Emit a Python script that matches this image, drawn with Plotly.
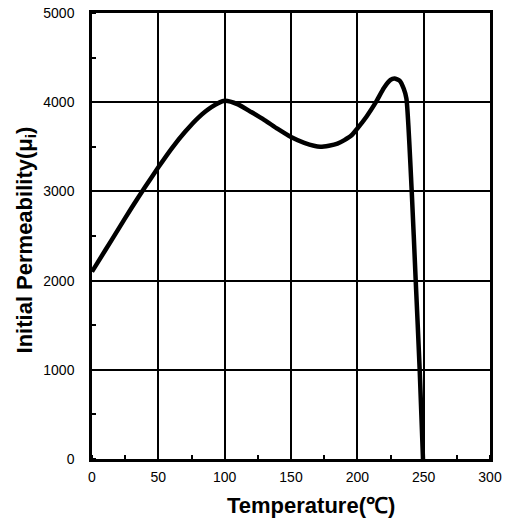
import plotly.graph_objects as go

temperature = [0, 10, 20, 30, 40, 50, 60, 70, 80, 90, 100, 110, 120, 130, 140, 150, 160, 172, 185,
               195, 200, 207, 214, 220, 225, 228, 232, 235, 237, 241, 244, 247, 249.5]
permeability = [2100, 2340, 2580, 2820, 3050, 3270, 3480, 3665, 3825, 3945, 4015, 3975, 3890,
                3800, 3700, 3610, 3545, 3500, 3535, 3620, 3705, 3840, 4000, 4160, 4250, 4265, 4240,
                4150, 4040, 3000, 2000, 1000, 0]

x_ticks = [0, 50, 100, 150, 200, 250, 300]
y_ticks = [0, 1000, 2000, 3000, 4000, 5000]

font_family = "Liberation Sans, Arial, sans-serif"

fig = go.Figure()
fig.add_trace(go.Scatter(
    x=temperature, y=permeability, mode="lines",
    line=dict(color="black", width=4.5, shape="spline", smoothing=0.6),
    showlegend=False, hoverinfo="skip",
))

axis_common = dict(
    showline=True, linecolor="black", linewidth=2.5, mirror=True,
    showgrid=True, gridcolor="black", gridwidth=2,
    zeroline=False, ticks="", automargin=False,
    tickfont=dict(family=font_family, size=14, color="black"),
)

fig.update_xaxes(
    range=[0, 300], tickvals=x_ticks, ticktext=[str(v) for v in x_ticks],
    minor=dict(ticks="inside", ticklen=4, tickwidth=2, tickcolor="black", dtick=25, tick0=0, showgrid=False),
    ticklabelstandoff=3,
    **axis_common,
)
fig.update_yaxes(
    range=[0, 5000], tickvals=y_ticks, ticktext=[str(v) for v in y_ticks],
    minor=dict(ticks="inside", ticklen=4, tickwidth=2, tickcolor="black", dtick=500, tick0=0, showgrid=False),
    ticklabelstandoff=12,
    **axis_common,
)

title_font = dict(family=font_family, size=22, color="black", weight="bold")
fig.add_annotation(
    text="Temperature(℃)", xref="paper", yref="paper", x=0.55, y=0, yshift=-46,
    xanchor="center", yanchor="middle", showarrow=False, font=title_font,
)
fig.add_annotation(
    text="Initial Permeability(μ<sub>i</sub>)", xref="paper", yref="paper", x=0, xshift=-66,
    y=0.49, xanchor="center", yanchor="middle", textangle=-90, showarrow=False, font=title_font,
)

fig.update_layout(
    width=507, height=519,
    margin=dict(l=92, r=17, t=13, b=60),
    paper_bgcolor="white", plot_bgcolor="white",
)

fig.write_html("out.html")
